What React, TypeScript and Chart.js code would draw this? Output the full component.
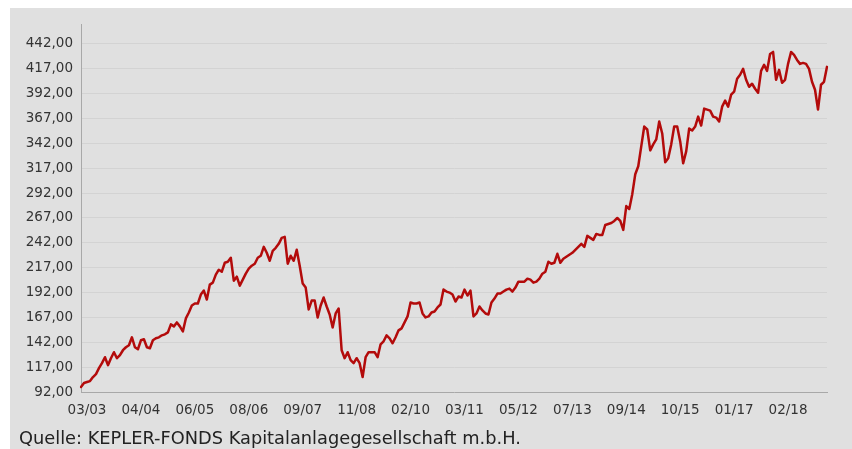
import { useEffect, useRef } from "react";
import { Chart, registerables } from "chart.js";

Chart.register(...registerables);

const tickLabels = [
  "03/03", "04/04", "06/05", "08/06", "09/07", "11/08", "02/10",
  "03/11", "05/12", "07/13", "09/14", "10/15", "01/17", "02/18",
];
const firstTickIndex = 2;
const tickEvery = 18;

const yTicks = [92, 117, 142, 167, 192, 217, 242, 267, 292, 317, 342, 367, 392, 417, 442];
const yMin = 92;
const yMax = 462;

const fundValues = [
  97, 101, 102, 103, 107, 110, 116, 121, 127, 119,
  126, 132, 126, 129, 134, 137, 139, 147, 137, 135,
  144, 145, 137, 136, 144, 146, 147, 149, 150, 152,
  160, 158, 162, 158, 153, 166, 172, 179, 181, 181,
  190, 194, 185, 200, 202, 210, 215, 213, 222, 223,
  227, 204, 208, 199, 205, 211, 216, 219, 221, 227,
  229, 238, 232, 224, 234, 237, 241, 247, 248, 221,
  229, 224, 235, 219, 201, 197, 175, 184, 184, 167,
  179, 187, 178, 170, 157, 171, 176, 134, 126, 132,
  124, 121, 126, 121, 107, 127, 132, 132, 132, 127,
  140, 143, 149, 146, 141, 147, 154, 156, 162, 168,
  182, 181, 181, 182, 171, 167, 168, 172, 173, 177,
  180, 195, 193, 192, 190, 183, 188, 187, 195, 189,
  194, 168, 171, 178, 174, 171, 170, 182, 186, 191,
  191, 193, 195, 196, 193, 197, 203, 203, 203, 206,
  205, 202, 203, 206, 211, 213, 223, 221, 222, 231,
  222, 226, 228, 230, 232, 235, 238, 241, 238, 249,
  247, 245, 251, 250, 250, 260, 261, 262, 264, 267,
  264, 255, 279, 276, 291, 311, 319, 339, 359, 356,
  335, 341, 346, 364, 352, 323, 327, 341, 359, 359,
  344, 322, 334, 357, 355, 359, 369, 360, 377, 376,
  375, 369, 368, 364, 379, 385, 379, 391, 394, 407,
  411, 417, 406, 399, 402, 397, 393, 415, 421, 415,
  432, 434, 406, 416, 403, 406, 422, 434, 431, 426,
  422, 423, 422, 417, 404, 396, 376, 401, 404, 419,
];

const sourceText = "Quelle: KEPLER-FONDS Kapitalanlagegesellschaft m.b.H.";

const pointLabels = fundValues.map((_, i) => {
  const k = (i - firstTickIndex) / tickEvery;
  return i >= firstTickIndex && Number.isInteger(k) && k < tickLabels.length ? tickLabels[k] : "";
});

const tickFont = { family: "'DejaVu Sans', Verdana, sans-serif", size: 13.5 };

export default function App() {
  const canvasRef = useRef<HTMLCanvasElement | null>(null);

  useEffect(() => {
    const canvas = canvasRef.current;
    if (!canvas) return;
    const chart = new Chart(canvas, {
      type: "line",
      data: {
        labels: pointLabels,
        datasets: [
          {
            data: fundValues,
            borderColor: "#b30b0b",
            borderWidth: 2.5,
            pointRadius: 0,
            tension: 0,
            fill: false,
            borderJoinStyle: "round",
            borderCapStyle: "round",
          },
        ],
      },
      options: {
        responsive: false,
        animation: false,
        devicePixelRatio: 1,
        layout: { padding: { left: 0, top: 14, right: 25, bottom: 27 } },
        plugins: { legend: { display: false }, tooltip: { enabled: false } },
        scales: {
          x: {
            type: "category",
            grid: { display: false },
            border: { display: true, color: "#a8a8a8", width: 1 },
            ticks: {
              autoSkip: false,
              maxRotation: 0,
              minRotation: 0,
              padding: 2,
              color: "#333333",
              font: tickFont,
            },
            afterFit: (s: any) => {
              s.height = 30;
            },
          },
          y: {
            min: yMin,
            max: yMax,
            grid: { color: "#d3d3d3", drawTicks: false },
            border: { display: true, color: "#a8a8a8", width: 1 },
            ticks: {
              padding: 8,
              color: "#333333",
              font: tickFont,
              callback: (v: any) => Number(v).toFixed(2).replace(".", ","),
            },
            afterBuildTicks: (s: any) => {
              s.ticks = yTicks.map((v) => ({ value: v }));
            },
            afterFit: (s: any) => {
              s.width = 71;
            },
          },
        },
      },
    } as any);
    return () => chart.destroy();
  }, []);

  return (
    <div
      style={{
        position: "fixed",
        left: 10,
        top: 8,
        width: 842,
        height: 441,
        background: "#e0e0e0",
        overflow: "hidden",
      }}
    >
      <canvas
        ref={canvasRef}
        width={842}
        height={441}
        style={{ position: "absolute", left: 0, top: 0, width: 842, height: 441 }}
      />
      <div
        style={{
          position: "absolute",
          left: 9,
          top: 421,
          fontFamily: "'DejaVu Sans', Verdana, sans-serif",
          fontSize: 17.8,
          lineHeight: 1,
          color: "#222222",
          whiteSpace: "nowrap",
        }}
      >
        {sourceText}
      </div>
    </div>
  );
}
